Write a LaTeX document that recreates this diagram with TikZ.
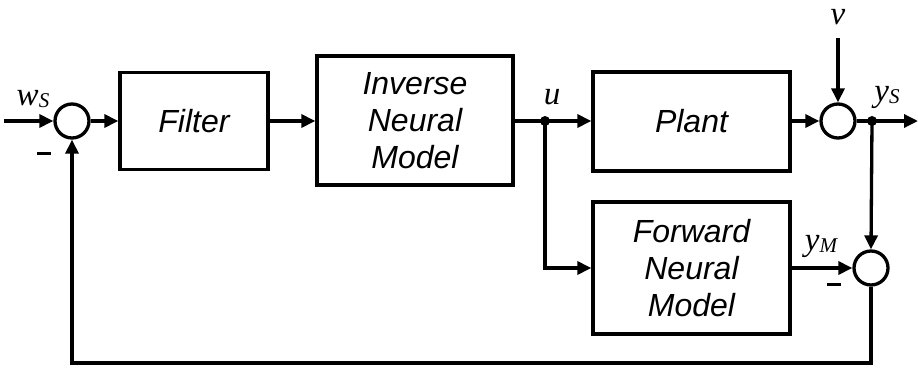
\documentclass[tikz,border=0pt]{standalone}
\usepackage{fontspec}
\setmainfont{Liberation Serif}
\setsansfont{Liberation Sans}
\usetikzlibrary{arrows.meta}
\newcommand{\lbl}[2]{{\fontsize{33}{33}\selectfont\itshape #1}\ifx\relax#2\relax\else\raisebox{-2pt}{\fontsize{21}{21}\selectfont\itshape #2}\fi}
\begin{document}
\begin{tikzpicture}[x=1pt,y=-1pt,
  line width=3.3pt,
  >={Triangle[length=14pt,width=13pt]},
  blk/.style={draw,line width=3.3pt,inner sep=0pt,font=\fontsize{32}{37}\selectfont\sffamily\itshape,align=center},
  sumc/.style={draw,circle,line width=3.3pt,minimum size=34pt,inner sep=0pt},
  dotc/.style={fill,circle,minimum size=10pt,inner sep=0pt},
  minussign/.style={inner sep=0pt,outer sep=0pt,rectangle,fill,draw=none,minimum width=14pt,minimum height=3pt,text height=0pt,text depth=0pt,text width=0pt},
  lab/.style={inner sep=0pt}]
\useasboundingbox (0,0) rectangle (918,367);
% blocks
\node[blk,minimum width=148pt,minimum height=97pt] (filt) at (194,121) {Filter};
\node[blk,minimum width=196pt,minimum height=129pt] (inv) at (415,120.5) {Inverse\\Neural\\Model};
\node[blk,minimum width=197pt,minimum height=99pt] (plant) at (691.5,121.5) {Plant};
\node[blk,minimum width=197pt,minimum height=132pt] (fwd) at (691.5,268) {Forward\\Neural\\Model};
% sums
\node[sumc] (s1) at (72,121) {};
\node[sumc] (s2) at (838,121) {};
\node[sumc] (s3) at (871,268) {};
% dots
\node[dotc] (du) at (545,121) {};
\node[dotc] (dy) at (872,121) {};
% free ends
\coordinate (in) at (4,121);
\coordinate (out) at (918,121);
\coordinate (vin) at (838,38);
\coordinate (bl) at (72,363);
\coordinate (br) at (871,363);
\coordinate (fb) at (545,268);
% connectors
\draw[->] (in) -- (s1.west);
\draw[->] (s1.east) -- (filt.west);
\draw[->] (filt.east) -- (inv.west |- filt.east);
\draw (inv.east |- du) -- (du.center);
\draw[->] (du.center) -- (plant.west |- du);
\draw[->] (plant.east |- s2) -- (s2.west);
\draw[->] (vin) -- (s2.north);
\draw (s2.east) -- (dy.center);
\draw[->] (dy.center) -- (out);
\draw[->] (dy.center) -- (s3.north);
\draw[->] (du.center) -- (fb) -- (fwd.west);
\draw[->] (fwd.east) -- (s3.west);
\draw[->] (s3.south) -- (br) -- (bl) -- (s1.south);
% minus signs
\node[minussign] (m1) at (44,153) {};
\node[minussign] (m3) at (834,284) {};
% labels
\node[lab] (lw) at (33,99) {\lbl{w}{S}};
\node[lab] (lu) at (552,97) {\lbl{u}{}};
\node[lab] (lv) at (838,17) {\lbl{v}{}};
\node[lab] (ly) at (887,97) {\lbl{y}{S}};
\node[lab] (lm) at (821,246) {\lbl{y}{M}};
\end{tikzpicture}
\end{document}
